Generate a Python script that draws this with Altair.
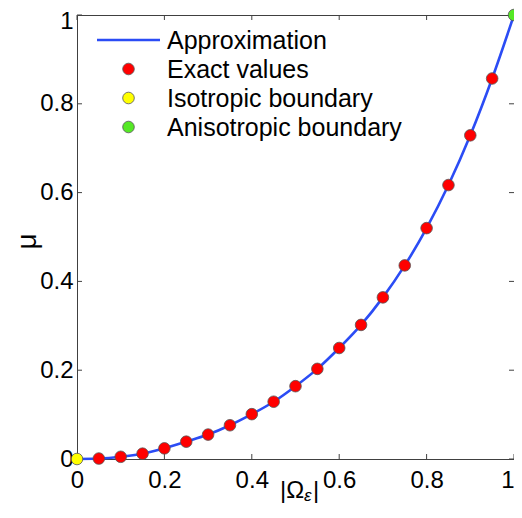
import altair as alt
import pandas as pd

# ---- data ----
x_exact = [0.05, 0.10, 0.15, 0.20, 0.25, 0.30, 0.35, 0.40, 0.45, 0.50,
           0.55, 0.60, 0.65, 0.70, 0.75, 0.80, 0.85, 0.90, 0.95]
mu_exact = [0.001, 0.005, 0.012, 0.024, 0.039, 0.055, 0.076, 0.101, 0.129, 0.164,
            0.203, 0.250, 0.302, 0.364, 0.436, 0.520, 0.617, 0.729, 0.857]
x_approx = [0.0] + x_exact + [1.0]
mu_approx = [0.0] + mu_exact + [1.0]
x_iso, mu_iso = [0.0], [0.0]
x_aniso, mu_aniso = [1.0], [1.0]
tick_values = [0, 0.2, 0.4, 0.6, 0.8, 1]
legend_labels = ["Approximation", "Exact values", "Isotropic boundary", "Anisotropic boundary"]

BLUE = "#2b4cf5"
RED = "#ff0000"
YELLOW = "#ffff00"
GREEN = "#55e825"
EDGE = "#555555"
FRAME = "#404040"
FONT = "Liberation Sans"
legend_colors = [BLUE, RED, YELLOW, GREEN]

W, H = 437, 444

df_line = pd.DataFrame({"x": x_approx, "mu": mu_approx})
df_exact = pd.DataFrame({"x": x_exact, "mu": mu_exact})
df_iso = pd.DataFrame({"x": x_iso, "mu": mu_iso})
df_aniso = pd.DataFrame({"x": x_aniso, "mu": mu_aniso})
df_ticks = pd.DataFrame({"x": tick_values, "mu": tick_values})

xs = alt.Scale(domain=[0, 1], nice=False, zero=False)
ys = alt.Scale(domain=[0, 1], nice=False, zero=False)

x_axis = alt.Axis(values=tick_values, format="~g", ticks=False, tickSize=0, grid=False,
                  labelFontSize=24, labelFont=FONT, labelColor="black", labelPadding=9,
                  labelFlush=False, domainColor=FRAME, domainWidth=1, title=None,
                  labelAlign={"condition": {"test": "datum.value == 1", "value": "right"},
                              "value": "center"})
y_axis = alt.Axis(values=tick_values, format="~g", ticks=False, tickSize=0, grid=False,
                  labelFontSize=24, labelFont=FONT, labelColor="black", labelPadding=4,
                  labelFlush=False, domainColor=FRAME, domainWidth=1,
                  labelOffset={"condition": {"test": "datum.value == 1", "value": 6},
                               "value": 0},
                  title="μ", titleFontSize=28, titleFont=FONT, titleFontWeight="normal",
                  titleColor="black", titleX=-36, titleY=226)


def X():
    return alt.X("x:Q", scale=xs, axis=x_axis)


def Y():
    return alt.Y("mu:Q", scale=ys, axis=y_axis)


line = alt.Chart(df_line).mark_line(color=BLUE, strokeWidth=2.6, interpolate="monotone").encode(
    x=X(), y=Y())


def pts(df, fill):
    return alt.Chart(df).mark_point(filled=True, size=135, fill=fill, stroke=EDGE,
                                    strokeWidth=0.8, opacity=1).encode(x=X(), y=Y())


exact = pts(df_exact, RED)
iso = pts(df_iso, YELLOW)
aniso = pts(df_aniso, GREEN)

# inward tick marks (MATLAB style)
tick_bottom = alt.Chart(df_ticks).mark_rule(color=FRAME, strokeWidth=1).encode(
    x=X(), y=alt.value(H), y2=alt.value(H - 5))
tick_top = alt.Chart(df_ticks).mark_rule(color=FRAME, strokeWidth=1).encode(
    x=X(), y=alt.value(0), y2=alt.value(5))
tick_left = alt.Chart(df_ticks).mark_rule(color=FRAME, strokeWidth=1).encode(
    y=Y(), x=alt.value(0), x2=alt.value(5))
tick_right = alt.Chart(df_ticks).mark_rule(color=FRAME, strokeWidth=1).encode(
    y=Y(), x=alt.value(W), x2=alt.value(W - 5))

# legend (hand-built, MATLAB style, no box)
legend_layers = []
for i, (lab, col) in enumerate(zip(legend_labels, legend_colors)):
    ry = 25 + 29 * i
    d = pd.DataFrame({"label": [lab]})
    if i == 0:
        sym = alt.Chart(d).mark_rule(color=col, strokeWidth=2.6).encode(
            x=alt.value(20), x2=alt.value(83), y=alt.value(ry))
    else:
        sym = alt.Chart(d).mark_point(filled=True, size=135, fill=col, stroke=EDGE,
                                      strokeWidth=0.8, opacity=1).encode(
            x=alt.value(51.5), y=alt.value(ry))
    txt = alt.Chart(d).mark_text(align="left", baseline="middle", fontSize=25, font=FONT,
                                 color="black").encode(
        x=alt.value(90), y=alt.value(ry + 1), text="label:N")
    legend_layers += [sym, txt]

# x-axis title |Ω_ε| with subscript
t1 = alt.Chart(pd.DataFrame({"t": ["|Ω"]})).mark_text(
    align="left", baseline="alphabetic", fontSize=24, font=FONT, color="black").encode(
    x=alt.value(203), y=alt.value(483), text="t:N")
t2 = alt.Chart(pd.DataFrame({"t": ["ε"]})).mark_text(
    align="left", baseline="alphabetic", fontSize=17, font=FONT, fontStyle="italic",
    color="black").encode(x=alt.value(227), y=alt.value(486), text="t:N")
t3 = alt.Chart(pd.DataFrame({"t": ["|"]})).mark_text(
    align="left", baseline="alphabetic", fontSize=24, font=FONT, color="black").encode(
    x=alt.value(236), y=alt.value(483), text="t:N")

chart = alt.layer(
    line, tick_bottom, tick_top, tick_left, tick_right,
    *legend_layers, t1, t2, t3,
    exact, iso, aniso,
).properties(
    width=W, height=H,
    padding={"left": 69, "top": 7, "right": 0, "bottom": 46},
    autosize=alt.AutoSizeParams(type="none"),
    background="white",
).configure_view(stroke=FRAME, strokeWidth=1)

chart.save("out.html", embed_options={"renderer": "svg", "actions": False})
